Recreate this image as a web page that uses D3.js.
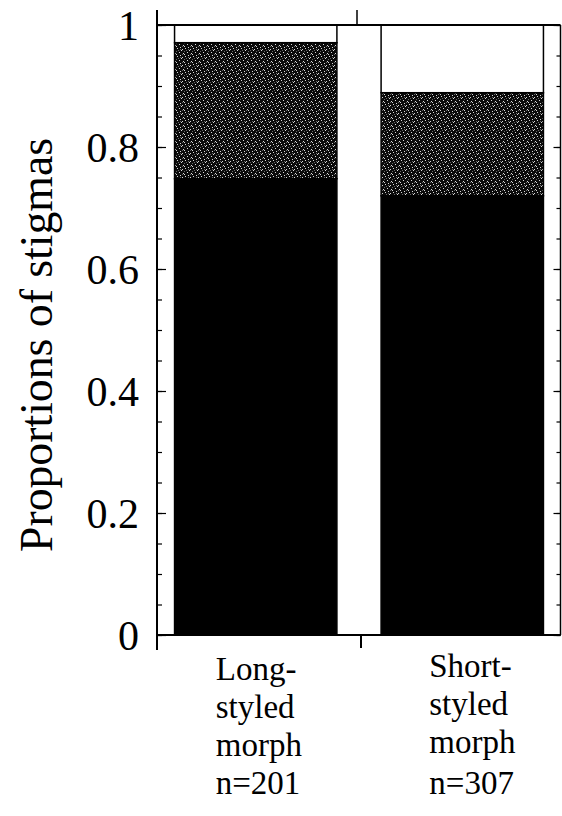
<!DOCTYPE html>
<html>
<head>
<meta charset="utf-8">
<script src="https://cdn.jsdelivr.net/npm/d3@7"></script>
<style>
    body { margin: 0; background: #fff; }
    svg { display: block; }
</style>
</head>
<body>
<div id="chart-container"></div>
<script>
// data
const categories = ["Long-styled morph", "Short-styled morph"];
const labelLines = [["Long-", "styled", "morph"], ["Short-", "styled", "morph"]];
const sampleSizes = [201, 307];
const blackProp = [0.748, 0.720];
const grayProp = [0.223, 0.169];
const whiteProp = [0.029, 0.111];
const yTicks = [0, 0.2, 0.4, 0.6, 0.8, 1];

const W = 562, H = 816;
const margin = { top: 25, right: 1, bottom: 181, left: 157 };
const serif = "'Liberation Serif', 'Times New Roman', Times, 'DejaVu Serif', serif";

const svg = d3.select("#chart-container")
    .append("svg")
    .attr("width", W)
    .attr("height", H)
    .attr("font-family", serif);

// stipple pattern for the middle segment
const defs = svg.append("defs");
const pat = defs.append("pattern")
    .attr("id", "stipple")
    .attr("width", 8).attr("height", 8)
    .attr("patternUnits", "userSpaceOnUse");
pat.append("rect").attr("width", 8).attr("height", 8).attr("fill", "#0a0a0a");
[[1,0],[5,2],[3,4],[7,5],[0,6],[4,7],[6,1]].forEach(([px, py]) => {
    pat.append("rect").attr("x", px).attr("y", py).attr("width", 1).attr("height", 1).attr("fill", "#d8d8d8");
});
[[2,2],[6,6],[0,3],[4,1]].forEach(([px, py]) => {
    pat.append("rect").attr("x", px).attr("y", py).attr("width", 1).attr("height", 1).attr("fill", "#666");
});

const x = d3.scaleBand()
    .domain(categories)
    .range([margin.left, W - margin.right])
    .paddingInner(0.214)
    .paddingOuter(0.085);

const y = d3.scaleLinear()
    .domain([0, 1])
    .range([H - margin.bottom, margin.top]);

const table = categories.map((c, i) => ({
    cat: c, black: blackProp[i], gray: grayProp[i], white: whiteProp[i]
}));
const stack = d3.stack().keys(["black", "gray", "white"])(table);
const fills = { black: "#000", gray: "url(#stipple)", white: "#fff" };

// bars
stack.forEach(layer => {
    svg.append("g")
        .selectAll("rect")
        .data(layer)
        .enter().append("rect")
        .attr("x", d => x(d.data.cat))
        .attr("width", x.bandwidth())
        .attr("y", d => y(d[1]))
        .attr("height", d => y(d[0]) - y(d[1]))
        .attr("fill", fills[layer.key])
        .attr("stroke", "#000")
        .attr("stroke-width", 1.5);
});

// frame lines
const xL = margin.left, xR = W - margin.right - 0.5;
const frame = svg.append("g").attr("stroke", "#000").attr("fill", "none");
frame.append("line").attr("x1", xL).attr("x2", xL).attr("y1", y(1) - 15).attr("y2", y(0) + 15).attr("stroke-width", 2);
frame.append("line").attr("x1", xR).attr("x2", xR).attr("y1", y(1)).attr("y2", y(0)).attr("stroke-width", 1.5);
frame.append("line").attr("x1", xL).attr("x2", xR).attr("y1", y(1)).attr("y2", y(1)).attr("stroke-width", 2);
frame.append("line").attr("x1", xL).attr("x2", xR).attr("y1", y(0)).attr("y2", y(0)).attr("stroke-width", 2);

// category divider ticks (top points up, bottom points down)
const mid = x(categories[0]) + x.bandwidth() + (x.step() - x.bandwidth()) / 2;
frame.append("line").attr("x1", mid - 2).attr("x2", mid - 2).attr("y1", y(1)).attr("y2", y(1) - 15).attr("stroke-width", 1.5);
frame.append("line").attr("x1", mid + 2).attr("x2", mid + 2).attr("y1", y(0)).attr("y2", y(0) + 13).attr("stroke-width", 2);

// minor + major ticks, inward on both sides
const minorVals = d3.range(0, 1.0001, 0.05);
function tickAxis(axis, xpos, vals, size) {
    const g = svg.append("g")
        .attr("transform", `translate(${xpos},0)`)
        .call(axis(y).tickValues(vals).tickSize(size).tickFormat(""));
    g.select(".domain").remove();
    g.selectAll("line").attr("stroke-width", 1.2);
}
tickAxis(d3.axisRight, xL, minorVals, 5);
tickAxis(d3.axisRight, xL, yTicks, 9);
tickAxis(d3.axisLeft, xR, minorVals, 4);
tickAxis(d3.axisLeft, xR, yTicks, 7);

// y labels
const yLab = svg.append("g")
    .attr("transform", `translate(${xL},0)`)
    .call(d3.axisLeft(y).tickValues(yTicks).tickSize(0).tickPadding(18).tickFormat(d3.format("")));
yLab.select(".domain").remove();
yLab.attr("font-family", serif).attr("font-size", 42);
yLab.selectAll("text").attr("dy", "0.34em");

// y title
svg.append("text")
    .attr("transform", `translate(52,${(y(0) + y(1)) / 2 + 15}) rotate(-90)`)
    .attr("text-anchor", "middle")
    .attr("textLength", 414)
    .attr("lengthAdjust", "spacingAndGlyphs")
    .attr("font-size", 46)
    .text("Proportions of stigmas");

// category labels
const labelShift = [{ dx: -40, dy: 0 }, { dx: -33, dy: -3 }];
categories.forEach((c, i) => {
    const cx = x(c) + x.bandwidth() / 2 + labelShift[i].dx;
    const g = svg.append("g").attr("font-size", 33);
    labelLines[i].forEach((line, j) => {
        g.append("text")
            .attr("x", cx)
            .attr("y", y(0) + 45 + j * 38 + labelShift[i].dy)
            .text(line);
    });
    g.append("text")
        .attr("x", cx)
        .attr("y", y(0) + 159)
        .text(`n=${sampleSizes[i]}`);
});
</script>
</body>
</html>
